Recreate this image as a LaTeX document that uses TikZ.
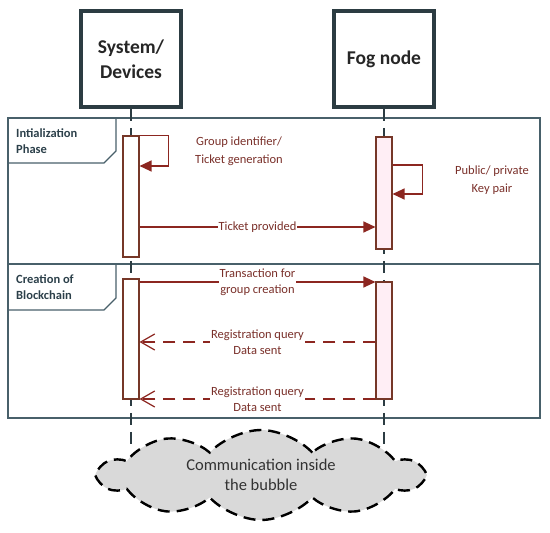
\documentclass[tikz,border=0pt]{standalone}
\usepackage{fontspec}
\setmainfont{Carlito}
\usetikzlibrary{arrows.meta, shapes.symbols, calc}

\definecolor{msgred}{RGB}{140,38,32}
\definecolor{txtred}{RGB}{122,48,42}
\definecolor{barline}{RGB}{118,55,40}
\definecolor{barpink}{RGB}{255,238,245}
\definecolor{frameline}{RGB}{72,96,106}
\definecolor{boxline}{RGB}{44,60,66}
\definecolor{tagtext}{RGB}{44,64,74}
\definecolor{bubblegray}{RGB}{217,217,217}

\begin{document}
\begin{tikzpicture}[
    x=1pt, y=-1pt,
    actor/.style={rectangle, draw=boxline, line width=3.5pt, fill=white,
                minimum width=100pt, minimum height=96pt,
                font=\fontsize{19.5}{25}\selectfont\bfseries, text=black!85, align=center},
    bar/.style={rectangle, draw=barline, line width=1.1pt, fill=#1,
                minimum width=16pt, inner sep=0pt},
    life/.style={draw=boxline, line width=1.1pt, dash pattern=on 12pt off 7pt},
    frame/.style={draw=frameline, line width=1.3pt},
    tag/.style={font=\fontsize{12.5}{16}\selectfont\bfseries, text=tagtext,
                align=left, anchor=west, inner sep=0pt},
    msg/.style={draw=msgred, line width=1.2pt,
                -{Triangle[length=12pt, width=11pt]}},
    reply/.style={draw=msgred, line width=1.2pt, dash pattern=on 12pt off 8pt,
                -{Straight Barb[length=14pt, width=16pt]}},
    lbl/.style={font=\fontsize{12.5}{16}\selectfont, text=txtred,
                align=center, fill=white, inner sep=1pt},
    note/.style={font=\fontsize{12.5}{18.5}\selectfont, text=txtred, align=center},
    bubble/.style={cloud, cloud puffs=10, cloud puff arc=95, cloud ignores aspect,
                draw=black, line width=2.4pt, dash pattern=on 12pt off 7pt,
                fill=bubblegray, minimum width=322pt, minimum height=90pt,
                align=center, font=\fontsize{16.5}{20.5}\selectfont, text=black!80}
  ]
  \useasboundingbox (0,0) rectangle (550,533);

  %% ---- Frame and phases ----
  \draw[frame] (8,118) rectangle (540,418);
  \draw[frame] (8,264) -- (540,264);
  \draw[frame] (8,163) -- (104,163) -- (116,151) -- (116,118);
  \draw[frame] (8,310) -- (104,310) -- (116,298) -- (116,264);
  \node[tag] (init)  at (16,141) {Intialization\\Phase};
  \node[tag] (chain) at (16,287) {Creation of\\Blockchain};

  %% ---- Actors and lifelines ----
  \node[actor] (sys) at (131,59) {System/\\Devices};
  \node[actor] (fog) at (384,59) {Fog node};
  \coordinate (sysEnd) at (131,450);
  \coordinate (fogEnd) at (384,450);
  \draw[life] (sys.south) -- (sysEnd);
  \draw[life] (fog.south) -- (fogEnd);

  %% ---- Activation bars ----
  \node[bar=white,   minimum height=121pt] (sysA) at (131,196.5) {};
  \node[bar=barpink, minimum height=112pt] (fogA) at (384,193)   {};
  \node[bar=white,   minimum height=120pt] (sysB) at (131,339)   {};
  \node[bar=barpink, minimum height=117pt] (fogB) at (384,340.5) {};

  %% ---- Initialization messages ----
  \draw[msg] (sysA.north east) -- ++(29,0) |- (sysA.east |- 0,166);
  \node[note] (grp) at (239,151) {Group identifier/\\Ticket generation};
  \draw[msg] (fogA.east |- 0,165) -- ++(30,0) |- (fogA.east |- 0,194);
  \node[note] (key) at (492,180) {Public/ private\\Key pair};
  \draw[msg] (sysA.east |- 0,227) -- node[lbl] (tick) {Ticket provided} (fogA.west |- 0,227);

  %% ---- Blockchain messages ----
  \draw[msg] (sysB.east |- 0,282) -- node[lbl] (trans) {Transaction for\\group creation} (fogB.west |- 0,282);
  \draw[reply] (fogB.west |- 0,342) -- node[lbl] (reg1) {Registration query\\Data sent} (sysB.east |- 0,342);
  \draw[reply] (fogB.west |- 0,399) -- node[lbl] (reg2) {Registration query\\Data sent} (sysB.east |- 0,399);

  %% ---- Bubble ----
  \node[bubble] (bub) at (261,475) {Communication inside\\the bubble};

\end{tikzpicture}
\end{document}
